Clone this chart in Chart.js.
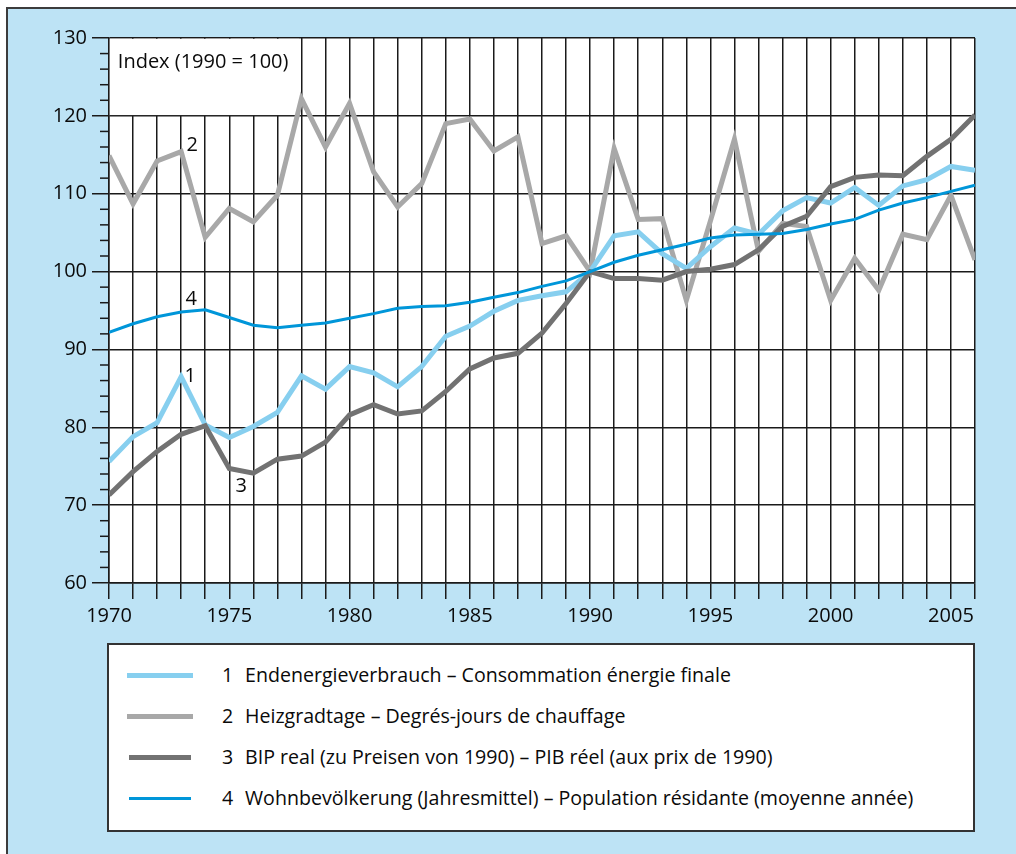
<!DOCTYPE html>
<html>
<head>
<meta charset="utf-8">
<script src="https://cdn.jsdelivr.net/npm/chart.js@4.4.1/dist/chart.umd.min.js"></script>
<style>
body { margin:0; width:1016px; height:854px; overflow:hidden; background:#fff; position:relative; font-family:'Open Sans', sans-serif; color:#0a0a0a; }
#frame { position:absolute; left:6px; top:7px; width:1100px; height:900px; border-left:2px solid #3c3c3c; border-top:2px solid #3c3c3c; background:#bde3f5; }
#chart { position:absolute; left:0; top:0; }
#legendBox { position:absolute; left:107px; top:643px; width:868px; height:189px; box-sizing:border-box; border:2px solid #333; background:#fff; }
.sw { position:absolute; }
.num, .lab { position:absolute; font-size:19.6px; line-height:24px; white-space:nowrap; }
</style>
</head>
<body>
<div id="frame"></div>
<canvas id="chart" width="1016" height="854"></canvas>
<div id="legendBox"></div>
<div id="legend"></div>
<script>
const years = [];
for (let y = 1970; y <= 2006; y++) years.push(y);

// 1 Endenergieverbrauch
const energy = [75.6, 78.8, 80.6, 86.5, 80.3, 78.7, 80.1, 81.9, 86.6, 84.9,
	87.8, 87.0, 85.2, 87.8, 91.7, 93.0, 94.9, 96.3, 96.9, 97.4,
	100, 104.6, 105.1, 102.3, 100.4, 103.2, 105.6, 104.8, 107.8, 109.5,
	108.8, 110.8, 108.5, 111.0, 111.8, 113.5, 113.0];
// 2 Heizgradtage
const degreeDays = [114.9, 108.7, 114.2, 115.4, 104.4, 108.1, 106.4, 109.8, 122.2, 116.0,
	121.6, 112.8, 108.3, 111.3, 119.0, 119.6, 115.5, 117.3, 103.6, 104.6,
	100, 115.8, 106.7, 106.8, 96.3, 106.5, 117.0, 102.6, 106.2, 105.8,
	96.3, 101.7, 97.6, 104.8, 104.1, 109.8, 101.5];
// 3 BIP real
const gdp = [71.3, 74.3, 76.9, 79.1, 80.2, 74.7, 74.1, 75.9, 76.3, 78.1,
	81.6, 82.9, 81.7, 82.1, 84.6, 87.5, 88.9, 89.5, 92.1, 95.9,
	100, 99.1, 99.1, 98.9, 100.0, 100.3, 100.9, 102.8, 105.8, 107.1,
	110.9, 112.1, 112.4, 112.3, 114.8, 117.0, 120.1];
// 4 Wohnbevoelkerung
const population = [92.2, 93.3, 94.2, 94.8, 95.1, 94.1, 93.1, 92.8, 93.1, 93.4,
	94.0, 94.6, 95.3, 95.5, 95.6, 96.05, 96.7, 97.3, 98.1, 98.8,
	100, 101.2, 102.1, 102.8, 103.5, 104.3, 104.7, 104.8, 104.9, 105.4,
	106.1, 106.7, 107.9, 108.8, 109.5, 110.3, 111.1];

const seriesLabels = [
	'Endenergieverbrauch – Consommation énergie finale',
	'Heizgradtage – Degrés-jours de chauffage',
	'BIP real (zu Preisen von 1990) – PIB réel (aux prix de 1990)',
	'Wohnbevölkerung (Jahresmittel) – Population résidante (moyenne année)'
];
const seriesColors = ['#87cfef', '#a8a8a8', '#727272', '#0096d9'];
const seriesWidths = [5, 5, 5, 3];
const yTickLabels = [60, 70, 80, 90, 100, 110, 120, 130];
const xTickLabels = [1970, 1975, 1980, 1985, 1990, 1995, 2000, 2005];
const indexLabel = 'Index (1990 = 100)';

const gridColor = '#1a1a1a';
const textColor = '#0a0a0a';
Chart.defaults.font.family = "'Open Sans', sans-serif";
Chart.defaults.color = textColor;

function toPoints(arr) {
	return arr.map((v, i) => ({ x: years[i], y: v }));
}

const allSeries = [energy, degreeDays, gdp, population];
const drawOrder = [2, 3, 1, 0];

const plotExtras = {
	id: 'plotExtras',
	beforeDraw(chart) {
		const a = chart.chartArea;
		const ctx = chart.ctx;
		ctx.save();
		ctx.fillStyle = '#fff';
		ctx.fillRect(a.left, a.top, a.right - a.left, a.bottom - a.top);
		ctx.restore();
	},
	beforeDatasetsDraw(chart) {
		const ctx = chart.ctx;
		const xs = chart.scales.x, ys = chart.scales.y;
		// white box with index label
		const l = xs.getPixelForValue(1970) + 0.8;
		const r = xs.getPixelForValue(1977.9);
		const t = ys.getPixelForValue(130) + 0.8;
		const b = ys.getPixelForValue(120) - 0.8;
		ctx.save();
		ctx.fillStyle = '#fff';
		ctx.fillRect(l, t, r - l, b - t);
		ctx.fillStyle = textColor;
		ctx.font = "20px 'Open Sans', sans-serif";
		ctx.textBaseline = 'middle';
		ctx.fillText(indexLabel, l + 8, ys.getPixelForValue(127) + 1);
		// minor ticks on y axis
		ctx.strokeStyle = gridColor;
		ctx.lineWidth = 1.5;
		for (let v = 62; v < 130; v += 2) {
			if (v % 10 === 0) continue;
			const py = ys.getPixelForValue(v);
			ctx.beginPath();
			ctx.moveTo(xs.left - 9, py);
			ctx.lineTo(xs.left, py);
			ctx.stroke();
		}
		ctx.restore();
	},
	afterDatasetsDraw(chart) {
		const ctx = chart.ctx;
		// series numbers next to lines
		const marks = [
			{ ds: 0, i: 3, dx: 9, dy: 0, t: '1' },
			{ ds: 1, i: 3, dx: 11, dy: -6, t: '2' },
			{ ds: 2, i: 5, dx: 12, dy: 18, t: '3' },
			{ ds: 3, i: 3, dx: 10, dy: -13, t: '4' }
		];
		ctx.save();
		ctx.fillStyle = textColor;
		ctx.font = "20px 'Open Sans', sans-serif";
		ctx.textAlign = 'center';
		ctx.textBaseline = 'middle';
		for (const m of marks) {
			const p = chart.getDatasetMeta(m.ds).data[m.i];
			ctx.fillText(m.t, p.x + m.dx, p.y + m.dy);
		}
		ctx.restore();
	}
};

new Chart(document.getElementById('chart'), {
	type: 'line',
	data: {
		datasets: allSeries.map((s, k) => ({
			label: (k + 1) + ' ' + seriesLabels[k],
			data: toPoints(s),
			borderColor: seriesColors[k],
			backgroundColor: seriesColors[k],
			borderWidth: seriesWidths[k],
			borderJoinStyle: 'miter',
			borderCapStyle: 'butt',
			pointRadius: 0,
			tension: 0,
			order: drawOrder[k]
		}))
	},
	options: {
		responsive: false,
		animation: false,
		layout: { padding: { left: 0, top: 38, right: 41, bottom: 211 } },
		plugins: {
			legend: { display: false },
			tooltip: { enabled: false }
		},
		scales: {
			x: {
				type: 'linear',
				min: 1970,
				max: 2006,
				ticks: {
					stepSize: 1,
					autoSkip: false,
					maxRotation: 0,
					padding: 5,
					font: { size: 20 },
					callback: v => xTickLabels.includes(v) ? String(v) : ''
				},
				grid: { color: gridColor, lineWidth: 1.5, tickLength: 16 },
				border: { color: gridColor, width: 1.5 },
				afterFit: s => { s.height = 60; }
			},
			y: {
				min: 60,
				max: 130,
				ticks: {
					stepSize: 2,
					autoSkip: false,
					padding: 5,
					font: { size: 20 },
					callback: v => yTickLabels.includes(v) ? String(v) : ''
				},
				grid: {
					color: c => (c.tick && c.tick.value % 10 === 0) ? gridColor : 'rgba(0,0,0,0)',
					tickColor: c => (c.tick && c.tick.value % 10 === 0) ? gridColor : 'rgba(0,0,0,0)',
					lineWidth: 1.5,
					tickLength: 17
				},
				border: { color: gridColor, width: 1.5 },
				afterFit: s => { s.width = 109; }
			}
		}
	},
	plugins: [plotExtras]
});

// legend below the chart
const legend = document.getElementById('legend');
const rowY = [675, 716, 757, 798];
seriesLabels.forEach((lab, k) => {
	const sw = document.createElement('div');
	sw.className = 'sw';
	const w = seriesWidths[k];
	const x0 = k < 2 ? 127 : 129, x1 = k < 2 ? 193 : 191;
	sw.style.left = x0 + 'px';
	sw.style.width = (x1 - x0) + 'px';
	sw.style.top = (rowY[k] - w / 2) + 'px';
	sw.style.height = w + 'px';
	sw.style.background = seriesColors[k];
	legend.appendChild(sw);

	const num = document.createElement('div');
	num.className = 'num';
	num.style.left = '222px';
	num.style.top = (rowY[k] - 12) + 'px';
	num.textContent = String(k + 1);
	legend.appendChild(num);

	const t = document.createElement('div');
	t.className = 'lab';
	t.style.left = '245px';
	t.style.top = (rowY[k] - 12) + 'px';
	t.textContent = lab;
	legend.appendChild(t);
});
</script>
</body>
</html>
